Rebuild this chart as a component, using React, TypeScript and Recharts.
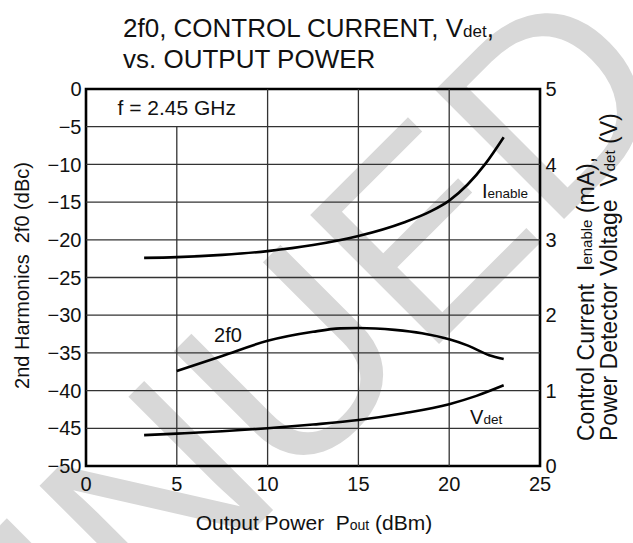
import React from 'react';
import { LineChart, Line, XAxis, YAxis, ReferenceLine, ReferenceArea, ReferenceDot } from 'recharts';

const FONT = '"Liberation Sans", Arial, Helvetica, sans-serif';

// 2nd harmonic (dBc) vs output power (dBm) - left axis
const harmonicX = [5, 7.5, 10, 12.5, 14, 15, 17, 18.5, 20, 21, 22.2, 23];
const harmonic2f0 = [-37.4, -35.4, -33.4, -32.2, -31.75, -31.7, -31.95, -32.4, -33.2, -34.0, -35.3, -35.8];

// Power detector voltage (V) - right axis
const vdetX = [3.2, 5, 7.5, 10, 12.5, 15, 17.5, 20, 21.5, 23];
const vdetV = [0.41, 0.43, 0.46, 0.5, 0.55, 0.61, 0.7, 0.82, 0.93, 1.07];

// Control current I_enable (mA) - right axis
const ienX = [3.2, 5, 7.5, 10, 12.5, 15, 17.5, 19, 20, 21, 22, 23];
const ienMA = [2.76, 2.77, 2.8, 2.85, 2.93, 3.05, 3.23, 3.38, 3.52, 3.73, 4.01, 4.36];

const xTicks = [0, 5, 10, 15, 20, 25];
const leftTicks = [-50, -45, -40, -35, -30, -25, -20, -15, -10, -5, 0];
const rightTicks = [0, 1, 2, 3, 4, 5];
const hGrid = [-45, -40, -35, -30, -25, -20, -15, -10, -5];
const vGrid = [10, 15, 20];

const harmonicData = harmonicX.map((x, i) => ({ x, y: harmonic2f0[i] }));
const vdetData = vdetX.map((x, i) => ({ x, y: vdetV[i] }));
const ienData = ienX.map((x, i) => ({ x, y: ienMA[i] }));

const minus = (v: number) => String(v).replace('-', '\u2212');

const LeftTitle = (props: any) => {
  const vb = props.viewBox || { x: 0, y: 89, width: 86, height: 377 };
  const cx = vb.x + 22;
  const cy = vb.y + vb.height / 2 - 2;
  return (
    <text x={cx} y={cy} transform={`rotate(-90 ${cx} ${cy})`} textAnchor="middle" dominantBaseline="central"
      fontSize={20} fill="#111" fontFamily={FONT} style={{ whiteSpace: 'pre' }}>
      {'2nd Harmonics  2f0 (dBc)'}
    </text>
  );
};

const RightTitle = (props: any) => {
  const vb = props.viewBox || { x: 540, y: 89, width: 93, height: 377 };
  const x1 = vb.x + 46;
  const x2 = vb.x + 69;
  const y0 = 441;
  return (
    <g fontFamily={FONT} fill="#111" fontSize={23}>
      <text x={x1} y={y0} transform={`rotate(-90 ${x1} ${y0})`} textAnchor="start" dominantBaseline="central" style={{ whiteSpace: 'pre' }}>
        <tspan>{'Control Current  I'}</tspan>
        <tspan fontSize={15}>enable</tspan>
        <tspan>{' (mA),'}</tspan>
      </text>
      <text x={x2} y={y0} transform={`rotate(-90 ${x2} ${y0})`} textAnchor="start" dominantBaseline="central" style={{ whiteSpace: 'pre' }}>
        <tspan>{'Power Detector Voltage  V'}</tspan>
        <tspan fontSize={15}>det</tspan>
        <tspan>{' (V)'}</tspan>
      </text>
    </g>
  );
};

const XTitle = (props: any) => {
  const vb = props.viewBox || { x: 86, y: 466, width: 454, height: 77 };
  const cx = vb.x + vb.width / 2 + 1;
  return (
    <text x={cx} y={530} textAnchor="middle" fontSize={21} fill="#111" fontFamily={FONT} style={{ whiteSpace: 'pre' }}>
      <tspan>{'Output Power  P'}</tspan>
      <tspan fontSize={14}>out</tspan>
      <tspan>{' (dBm)'}</tspan>
    </text>
  );
};

const curveLabels = [
  { x: 7.05, y: -33.5, main: '2f0', sub: '' },
  { x: 21.15, y: -44.4, main: 'V', sub: 'det' },
  { x: 21.8, y: -14.45, main: 'I', sub: 'enable' },
];

export default function App() {
  return (
    <div style={{ position: 'absolute', left: 0, top: 0, width: 633, height: 543, background: '#fff', overflow: 'hidden', fontFamily: FONT }}>
      <svg width={633} height={543} style={{ position: 'absolute', left: 0, top: 0 }}>
        <text x={684} y={99} transform="rotate(-45 684 99)" textAnchor="end" fontSize={265} fill="#d8d8d8" fontFamily={FONT}>
          DISCONTINUED
        </text>
      </svg>
      <div style={{ position: 'absolute', left: 0, top: 0 }}>
        <LineChart width={633} height={543} margin={{ top: 89, right: 0, bottom: 0, left: 0 }}>
          <XAxis type="number" dataKey="x" domain={[0, 25]} ticks={xTicks} interval={0} allowDataOverflow
            height={77} axisLine={false} tickLine={false} tickSize={0} tickMargin={11}
            tick={{ fontSize: 20, fill: '#111', fontFamily: FONT }} label={(p: any) => <XTitle {...p} />} />
          <YAxis yAxisId="left" type="number" domain={[-50, 0]} ticks={leftTicks} interval={0} allowDataOverflow
            width={86} axisLine={false} tickLine={false} tickSize={0} tickMargin={4.5} tickFormatter={minus}
            tick={{ fontSize: 20, fill: '#111', fontFamily: FONT }} label={(p: any) => <LeftTitle {...p} />} />
          <YAxis yAxisId="right" orientation="right" type="number" domain={[0, 5]} ticks={rightTicks} interval={0} allowDataOverflow
            width={93} axisLine={false} tickLine={false} tickSize={0} tickMargin={5.5}
            tick={{ fontSize: 20, fill: '#111', fontFamily: FONT }} label={(p: any) => <RightTitle {...p} />} />

          {hGrid.map((v) => (
            <ReferenceLine key={'h' + v} yAxisId="left" y={v} stroke="#333" strokeWidth={1.3} />
          ))}
          {vGrid.map((v) => (
            <ReferenceLine key={'v' + v} yAxisId="left" x={v} stroke="#333" strokeWidth={1.3} />
          ))}
          <ReferenceLine yAxisId="left" segment={[{ x: 5, y: -50 }, { x: 5, y: -5 }]} stroke="#333" strokeWidth={1.3} />
          <ReferenceArea yAxisId="left" x1={0} x2={10} y1={-5} y2={0} fill="none" stroke="none"
            label={{ value: 'f = 2.45 GHz', position: 'center', fontSize: 21, fill: '#111', fontFamily: FONT }} />

          <Line yAxisId="left" data={harmonicData} dataKey="y" type="monotone" stroke="#000" strokeWidth={2.6} dot={false} isAnimationActive={false} />
          <Line yAxisId="right" data={vdetData} dataKey="y" type="monotone" stroke="#000" strokeWidth={2.6} dot={false} isAnimationActive={false} />
          <Line yAxisId="right" data={ienData} dataKey="y" type="monotone" stroke="#000" strokeWidth={2.6} dot={false} isAnimationActive={false} />

          {curveLabels.map((c) => (
            <ReferenceDot key={c.main} yAxisId="left" x={c.x} y={c.y} r={0}
              shape={(p: any) => (
                <text x={p.cx} y={p.cy} fontSize={20} fill="#111" fontFamily={FONT}>
                  <tspan>{c.main}</tspan>
                  {c.sub ? <tspan fontSize={13.5}>{c.sub}</tspan> : null}
                </text>
              )} />
          ))}

          <ReferenceArea yAxisId="left" x1={0} x2={25} y1={-50} y2={0} fill="none" stroke="#000" strokeWidth={2.6} ifOverflow="visible" />
        </LineChart>
      </div>
      <svg width={633} height={100} style={{ position: 'absolute', left: 0, top: 0 }}>
        <g fontFamily={FONT} fill="#111" fontSize={26}>
          <text x={123} y={37}>
            <tspan>2f0, CONTROL CURRENT, V</tspan>
            <tspan fontSize={17}>det</tspan>
            <tspan>,</tspan>
          </text>
          <text x={123} y={68}>vs. OUTPUT POWER</text>
        </g>
      </svg>
    </div>
  );
}
